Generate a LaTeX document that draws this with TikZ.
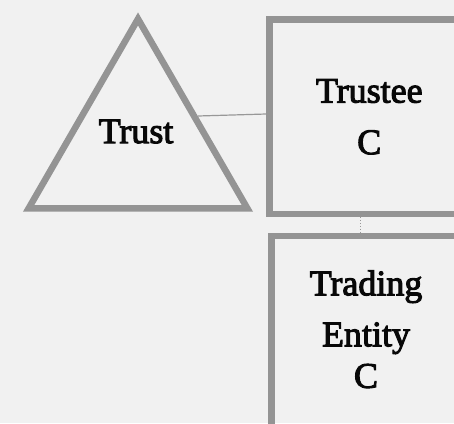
\documentclass[tikz,border=0pt]{standalone}
\usepackage{fontspec}
\newfontfamily\labelfont[FakeBold=2.8]{Liberation Serif}
\usetikzlibrary{shapes.geometric}
\definecolor{paper}{RGB}{241,241,241}
\definecolor{edgegray}{RGB}{148,148,148}
\definecolor{linkgray}{RGB}{152,152,152}
\definecolor{ink}{RGB}{8,8,8}
\tikzset{
  entitybox/.style={draw=edgegray, line width=6.5pt, rectangle, inner sep=0pt,
    align=center, text=ink, font=\labelfont\fontsize{36}{51.5}\selectfont},
  trustshape/.style={draw=edgegray, line width=6.5pt, regular polygon,
    regular polygon sides=3, inner sep=0pt, miter limit=10},
  labeltext/.style={text=ink, inner sep=0pt, align=center,
    font=\labelfont\fontsize{36}{51.5}\selectfont},
  solidlink/.style={draw=linkgray, line width=1.2pt},
  dottedlink/.style={draw=linkgray, line width=0.9pt, dotted}
}
\begin{document}
\begin{tikzpicture}[x=1pt, y=-1pt]
  % canvas
  \fill[paper] (0,0) rectangle (454,423);
  \useasboundingbox (0,0) rectangle (454,423);
  \clip (0,0) rectangle (454,423);

  % trust triangle and its label
  \node[trustshape, minimum size=252.7pt] (trust) at (138,145.3) {};
  \node[labeltext] (trustlabel) at (136,131.5) {Trust};

  % trustee company
  \node[entitybox, minimum width=199.5pt, minimum height=194.5pt]
    (trustee) at (369.25,116.75) {Trustee\\C};

  % trading entity: the box runs on below the lower edge
  \node[entitybox, minimum width=191pt, minimum height=220pt]
    (trading) at (367,346) {};
  \node[labeltext] (tradinglabel) at (366,329.2)
    {Trading\\[-0.5pt]Entity\\[-10pt]C};

  % connectors
  \coordinate (trustlink) at (198,116);
  \draw[solidlink] (trustlink) -- ([yshift=2.75pt]trustee.west);
  \coordinate (droplink) at (360.7,0);
  \draw[dottedlink] (trustee.south -| droplink) -- (trading.north -| droplink);
\end{tikzpicture}
\end{document}
